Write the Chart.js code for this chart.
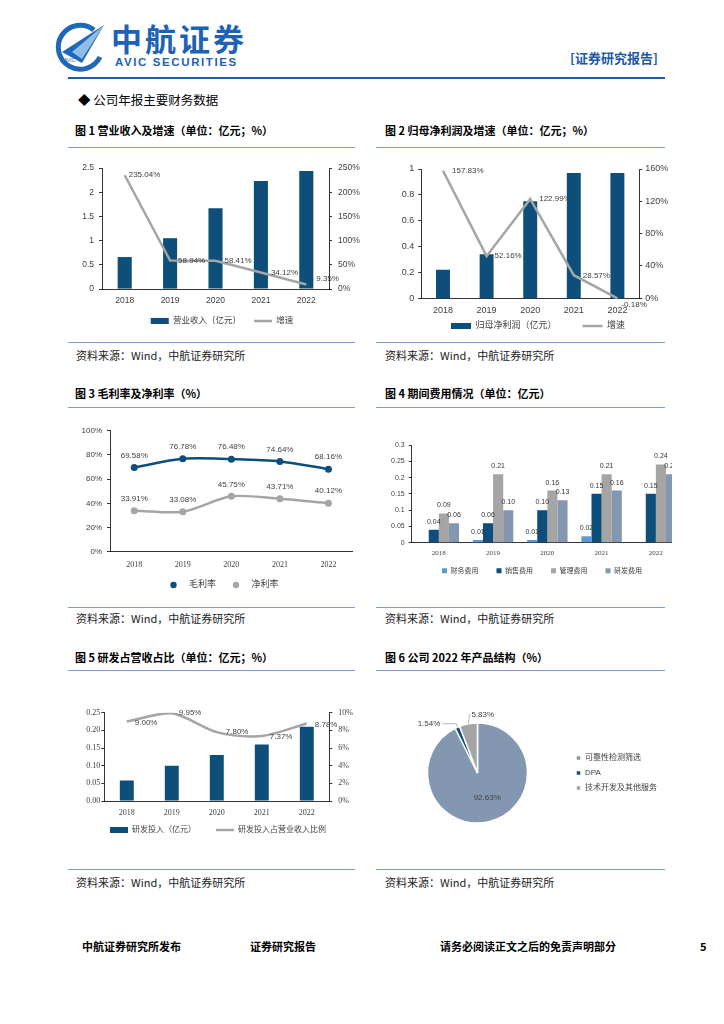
<!DOCTYPE html>
<html>
<head>
<meta charset="utf-8">
<script src="https://cdn.jsdelivr.net/npm/chart.js@4.4.0/dist/chart.umd.min.js"></script>
<style>
  body { margin: 0; width: 724px; height: 1024px; background: #fff; position: relative; overflow: hidden;
         font-family: 'Noto Sans CJK SC', sans-serif; color: #000; }
  .abs { position: absolute; white-space: nowrap; }
  .ttl { font-size: 11px; font-weight: bold; line-height: 12px; }
  .src { font-size: 11px; line-height: 12px; color: #222; }
  .foot { font-size: 11px; font-weight: bold; line-height: 12px; }
  .hl { position: absolute; height: 0; border-top: 1.5px solid #7c9ccf; }
  .box { position: absolute; }
</style>
</head>
<body>

<!-- header -->
<svg class="abs" style="left:52px;top:21px" width="56" height="54" viewBox="0 0 56 54">
  <path d="M42 9 A22 22 0 1 0 48 36" fill="none" stroke="#1f68b8" stroke-width="5"/>
  <polygon points="10,31 52,4 30,42" fill="#1f68b8"/>
  <polygon points="20,31 52,4 30,38" fill="#8fbde6"/>
  <text x="12" y="41" font-size="5" font-family="Liberation Sans" fill="#1f68b8">AVIC</text>
</svg>
<div class="abs" style="left:111px;top:20px;font-size:31px;font-weight:bold;line-height:36px;color:#1d62b5;letter-spacing:3px">中航证券</div>
<div class="abs" style="left:115px;top:56px;font-family:'Liberation Sans';font-size:11.5px;font-weight:bold;line-height:12px;color:#1d62b5;letter-spacing:1.6px">AVIC SECURITIES</div>
<div class="abs" style="left:570px;top:50px;font-size:13px;font-weight:bold;line-height:15px;color:#1d5aa6">[证券研究报告]</div>
<div class="abs" style="left:68px;top:77px;width:597px;height:0;border-top:2px solid #1f5ca8"></div>
<div class="abs" style="left:78px;top:92px;font-size:12.5px;line-height:15px">◆ 公司年报主要财务数据</div>

<!-- row 1 -->
<div class="abs ttl" style="left:75px;top:124px">图 1 营业收入及增速（单位：亿元；%）</div>
<div class="abs ttl" style="left:385px;top:124px">图 2 归母净利润及增速（单位：亿元；%）</div>
<div class="hl" style="left:68px;top:147px;width:287px"></div>
<div class="hl" style="left:376px;top:147px;width:289px"></div>
<div class="hl" style="left:68px;top:342px;width:287px"></div>
<div class="hl" style="left:376px;top:342px;width:289px"></div>
<div class="abs src" style="left:76px;top:349px">资料来源：Wind，中航证券研究所</div>
<div class="abs src" style="left:385px;top:349px">资料来源：Wind，中航证券研究所</div>

<!-- row 2 -->
<div class="abs ttl" style="left:75px;top:387px">图 3 毛利率及净利率（%）</div>
<div class="abs ttl" style="left:385px;top:387px">图 4 期间费用情况（单位：亿元）</div>
<div class="hl" style="left:68px;top:407px;width:287px"></div>
<div class="hl" style="left:376px;top:407px;width:289px"></div>
<div class="hl" style="left:68px;top:607px;width:287px"></div>
<div class="hl" style="left:376px;top:607px;width:289px"></div>
<div class="abs src" style="left:76px;top:612px">资料来源：Wind，中航证券研究所</div>
<div class="abs src" style="left:385px;top:612px">资料来源：Wind，中航证券研究所</div>

<!-- row 3 -->
<div class="abs ttl" style="left:75px;top:651px">图 5 研发占营收占比（单位：亿元；%）</div>
<div class="abs ttl" style="left:385px;top:651px">图 6 公司 2022 年产品结构（%）</div>
<div class="hl" style="left:68px;top:670px;width:287px"></div>
<div class="hl" style="left:376px;top:670px;width:289px"></div>
<div class="hl" style="left:68px;top:869px;width:287px"></div>
<div class="hl" style="left:376px;top:869px;width:289px"></div>
<div class="abs src" style="left:76px;top:876px">资料来源：Wind，中航证券研究所</div>
<div class="abs src" style="left:385px;top:876px">资料来源：Wind，中航证券研究所</div>

<!-- footer -->
<div class="abs foot" style="left:82px;top:940px">中航证券研究所发布</div>
<div class="abs foot" style="left:250px;top:940px">证券研究报告</div>
<div class="abs foot" style="left:440px;top:940px">请务必阅读正文之后的免责声明部分</div>
<div class="abs foot" style="left:700px;top:940px">5</div>

<!-- charts -->
<div class="box" style="left:60px;top:150px;width:310px;height:190px"><canvas id="c1"></canvas></div>
<div class="box" style="left:375px;top:150px;width:300px;height:212px"><canvas id="c2"></canvas></div>
<div class="box" style="left:50px;top:415px;width:320px;height:190px"><canvas id="c3"></canvas></div>
<div class="box" style="left:375px;top:415px;width:297px;height:185px;overflow:hidden">
  <div style="position:absolute;left:0;top:0;width:322px;height:179px"><canvas id="c4"></canvas></div>
</div>
<div class="box" style="left:60px;top:690px;width:310px;height:167px"><canvas id="c5"></canvas></div>
<div class="box" style="left:375px;top:690px;width:300px;height:166px"><canvas id="c6"></canvas></div>

<script>
// ---- data ----
const years = ['2018', '2019', '2020', '2021', '2022'];

const revenue = [0.66, 1.05, 1.67, 2.23, 2.44];            // 营业收入（亿元）
const revenueGrowth = [235.04, 58.94, 58.41, 34.12, 9.35]; // 增速 %

const netProfit = [0.22, 0.34, 0.75, 0.97, 0.97];           // 归母净利润（亿元）
const netProfitGrowth = [157.83, 52.16, 122.99, 28.57, -0.18];

const grossMargin = [69.58, 76.78, 76.48, 74.64, 68.16];    // 毛利率
const netMargin = [33.91, 33.08, 45.75, 43.71, 40.12];      // 净利率

const financeExp = [null, 0.008, 0.008, 0.02, null];        // 财务费用
const salesExp = [0.04, 0.06, 0.10, 0.15, 0.15];            // 销售费用
const adminExp = [0.09, 0.21, 0.16, 0.21, 0.24];            // 管理费用
const rdExp = [0.06, 0.10, 0.13, 0.16, 0.21];               // 研发费用

const rdSpend = [0.058, 0.10, 0.13, 0.16, 0.21];            // 研发投入（亿元）
const rdRatio = [9.00, 9.95, 7.80, 7.37, 8.78];             // 研发投入占营业收入比例

const productNames = ['可靠性检测筛选', 'DPA', '技术开发及其他服务'];
const productShare = [92.63, 1.54, 5.83];

// ---- styling ----
const DARK = '#0d4f7a';
const GRAY = '#a5a5a5';
const STEEL = '#8497b0';
const LIGHT = '#5b9bd5';
const NUM = "'Liberation Sans', 'Noto Sans CJK SC', sans-serif";
const SERIF = "'Liberation Serif', 'Noto Sans CJK SC', serif";

Chart.defaults.font.family = NUM;
Chart.defaults.font.size = 9;
Chart.defaults.color = '#404040';
Chart.defaults.animation = false;
Chart.defaults.events = [];
Chart.defaults.plugins.tooltip.enabled = false;

// value labels next to points / on top of bars
const pointLabels = {
  id: 'pointLabels',
  afterDatasetsDraw(chart) {
    const ctx = chart.ctx;
    chart.data.datasets.forEach((ds, i) => {
      const lab = ds.pointLabel;
      if (!lab) return;
      const meta = chart.getDatasetMeta(i);
      ctx.save();
      ctx.font = lab.font;
      ctx.fillStyle = lab.color || '#404040';
      ctx.textAlign = lab.align || 'center';
      ctx.textBaseline = 'middle';
      meta.data.forEach((el, j) => {
        const v = ds.data[j];
        if (v === null || v === undefined) return;
        const off = lab.offsets ? lab.offsets[j] : [0, lab.dy || 0];
        ctx.fillText(lab.format(v), el.x + off[0], el.y + off[1]);
      });
      ctx.restore();
    });
  }
};

// move the legend up/down after layout (keeps the item spacing of the original)
const legendNudge = {
  id: 'legendNudge',
  afterLayout(chart, args, opts) {
    const lg = chart.legend;
    if (!lg || !opts.dy) return;
    lg.top += opts.dy;
    lg.bottom += opts.dy;
  }
};

// circle marker on top of the line symbol in the legend
const legendDots = {
  id: 'legendDots',
  afterDraw(chart) {
    const lg = chart.legend;
    if (!lg || !lg.legendHitBoxes) return;
    const w = lg.options.labels.pointStyleWidth;
    const ctx = chart.ctx;
    lg.legendItems.forEach((it, i) => {
      const hb = lg.legendHitBoxes[i];
      ctx.save();
      ctx.fillStyle = it.strokeStyle;
      ctx.beginPath();
      ctx.arc(hb.left + w / 2, hb.top + hb.height / 2, 3.2, 0, Math.PI * 2);
      ctx.fill();
      ctx.restore();
    });
  }
};

// pie percentage labels with leader lines
const pieLabels = {
  id: 'pieLabels',
  afterDatasetsDraw(chart, args, opts) {
    const ctx = chart.ctx;
    const ds = chart.data.datasets[0];
    const meta = chart.getDatasetMeta(0);
    ctx.save();
    ctx.font = opts.font;
    ctx.fillStyle = '#404040';
    ctx.strokeStyle = '#a6a6a6';
    ctx.lineWidth = 0.8;
    ctx.textBaseline = 'middle';
    meta.data.forEach((arc, j) => {
      const p = opts.place[j];
      const mid = (arc.startAngle + arc.endAngle) / 2;
      const r = arc.outerRadius;
      const txt = ds.data[j].toFixed(2) + '%';
      if (p.inside) {
        ctx.textAlign = 'center';
        ctx.fillText(txt, arc.x + Math.cos(mid) * r * p.inside + (p.dx || 0), arc.y + Math.sin(mid) * r * p.inside);
        return;
      }
      const x0 = arc.x + Math.cos(mid) * r, y0 = arc.y + Math.sin(mid) * r;
      const x1 = x0 + p.elbow[0], y1 = y0 + p.elbow[1];
      const x2 = x1 + p.tail;
      ctx.beginPath();
      ctx.moveTo(x0, y0); ctx.lineTo(x1, y1); ctx.lineTo(x2, y1);
      ctx.stroke();
      ctx.textAlign = p.tail < 0 ? 'right' : 'left';
      ctx.fillText(txt, x2 + (p.tail < 0 ? -2 : 1), y1);
    });
    ctx.restore();
  }
};

function xAxis(size, pad, height, family) {
  return {
    offset: true,
    grid: { display: false, drawTicks: false },
    border: { display: true, color: '#000', width: 0.8 },
    ticks: { font: { size: size, family: family || NUM }, padding: pad, color: '#404040' },
    afterFit(s) { s.height = height; }
  };
}

function yAxis(o) {
  return {
    position: o.position || 'left',
    min: o.min, max: o.max,
    grid: { display: true, drawOnChartArea: false, drawTicks: true, tickLength: 3, color: '#000', lineWidth: 0.8 },
    border: { display: true, color: '#000', width: 0.8 },
    ticks: { stepSize: o.step, font: { size: o.size || 8.5, family: o.family || NUM }, padding: o.pad, color: '#404040',
             callback: o.cb || undefined },
    afterFit(s) { s.width = o.width; }
  };
}

// empty spacer on the right, so the legend centre matches the original
function padAxis(width) {
  return {
    type: 'linear', axis: 'y', position: 'right', display: true,
    grid: { display: false, drawTicks: false }, border: { display: false }, ticks: { display: false },
    afterFit(s) { s.width = width; }
  };
}

const bySet = (a, b) => a.datasetIndex - b.datasetIndex;
const short = v => String(Math.round(v * 100) / 100);

// ---- 图1 营业收入及增速 ----
new Chart(document.getElementById('c1'), {
  type: 'bar',
  data: {
    labels: years,
    datasets: [
      { type: 'bar', label: '营业收入（亿元）', data: revenue, yAxisID: 'y', backgroundColor: DARK,
        barPercentage: 0.31, categoryPercentage: 1, order: 1, pointStyle: 'rect' },
      { type: 'line', label: '增速', data: revenueGrowth, yAxisID: 'y1', borderColor: GRAY, backgroundColor: GRAY,
        borderWidth: 2.5, pointRadius: 0, tension: 0, order: 0, pointStyle: 'line',
        pointLabel: { font: '8px ' + NUM, align: 'left', offsets: [[4, 0], [8, 0], [9, 0], [10, 0], [10, -6]],
                      format: v => v.toFixed(2) + '%' } }
    ]
  },
  options: {
    responsive: true, maintainAspectRatio: false,
    layout: { padding: { top: 18, left: 14, right: 0, bottom: 4.75 } },
    plugins: {
      legend: { position: 'bottom', labels: { usePointStyle: true, pointStyleWidth: 18, boxHeight: 6, padding: 13,
                font: { size: 8.5 }, color: '#404040', sort: bySet } }
    },
    scales: {
      x: xAxis(8.5, 7, 14.75),
      y: yAxis({ min: 0, max: 2.5, step: 0.5, width: 28, pad: 5, cb: short }),
      y1: yAxis({ position: 'right', min: 0, max: 250, step: 50, width: 41, pad: 6, cb: v => v + '%' })
    }
  },
  plugins: [pointLabels]
});

// ---- 图2 归母净利润及增速 ----
new Chart(document.getElementById('c2'), {
  type: 'bar',
  data: {
    labels: years,
    datasets: [
      { type: 'bar', label: '归母净利润（亿元）', data: netProfit, yAxisID: 'y', backgroundColor: DARK,
        barPercentage: 0.32, categoryPercentage: 1, order: 1, pointStyle: 'rect' },
      { type: 'line', label: '增速', data: netProfitGrowth, yAxisID: 'y1', borderColor: GRAY, backgroundColor: GRAY,
        borderWidth: 2.5, pointRadius: 0, tension: 0, order: 0, pointStyle: 'line', clip: false,
        pointLabel: { font: '8px ' + NUM, align: 'left', offsets: [[9, 0], [8, 0], [9, 0], [9, 1], [4, 6]],
                      format: v => v.toFixed(2) + '%' } }
    ]
  },
  options: {
    responsive: true, maintainAspectRatio: false,
    layout: { padding: { top: 19, left: 26, right: 0, bottom: 0.7 } },
    plugins: {
      legend: { position: 'bottom', labels: { usePointStyle: true, pointStyleWidth: 20, boxHeight: 6, padding: 26,
                font: { size: 9 }, color: '#404040', sort: bySet } },
      legendNudge: { dy: -20.8 }
    },
    scales: {
      x: xAxis(9, 7, 18),
      y: yAxis({ min: 0, max: 1, step: 0.2, width: 20.2, pad: 4, size: 9, cb: short }),
      y1: yAxis({ position: 'right', min: 0, max: 160, step: 40, width: 35.8, pad: 3, size: 9, cb: v => v + '%' })
    }
  },
  plugins: [pointLabels, legendNudge]
});

// ---- 图3 毛利率及净利率 ----
new Chart(document.getElementById('c3'), {
  type: 'line',
  data: {
    labels: years,
    datasets: [
      { label: '毛利率', data: grossMargin, borderColor: DARK, backgroundColor: DARK, borderWidth: 2.5,
        pointRadius: 3.5, pointBorderWidth: 0, pointBackgroundColor: DARK, tension: 0.3,
        pointLabel: { font: '8px ' + NUM, dy: -12, format: v => v.toFixed(2) + '%' } },
      { label: '净利率', data: netMargin, borderColor: GRAY, backgroundColor: GRAY, borderWidth: 2.5,
        pointRadius: 3.5, pointBorderWidth: 0, pointBackgroundColor: GRAY, tension: 0.3,
        pointLabel: { font: '8px ' + NUM, dy: -12, format: v => v.toFixed(2) + '%' } }
    ]
  },
  options: {
    responsive: true, maintainAspectRatio: false,
    layout: { padding: { top: 15.7, left: 30, right: 9, bottom: 5.5 } },
    plugins: {
      legend: { position: 'bottom', labels: { usePointStyle: true, pointStyle: 'line', pointStyleWidth: 22, boxHeight: 6,
                padding: 9, font: { size: 9 }, color: '#404040' } }
    },
    scales: {
      x: xAxis(8, 8.5, 19.8, SERIF),
      y: yAxis({ min: 0, max: 100, step: 20, width: 30, pad: 5, size: 8, cb: v => v + '%' }),
      yPad: padAxis(8.3)
    }
  },
  plugins: [pointLabels, legendDots]
});

// ---- 图4 期间费用情况 ----
const expLabel = { font: '7px ' + NUM, dy: -8, color: '#333', format: v => v.toFixed(2) };
new Chart(document.getElementById('c4'), {
  type: 'bar',
  data: {
    labels: years,
    datasets: [
      { label: '财务费用', data: financeExp, backgroundColor: LIGHT, pointLabel: expLabel },
      { label: '销售费用', data: salesExp, backgroundColor: DARK, pointLabel: expLabel },
      { label: '管理费用', data: adminExp, backgroundColor: GRAY, pointLabel: expLabel },
      { label: '研发费用', data: rdExp, backgroundColor: STEEL, pointLabel: expLabel }
    ]
  },
  options: {
    responsive: true, maintainAspectRatio: false,
    datasets: { bar: { barPercentage: 1, categoryPercentage: 0.745 } },
    layout: { padding: { top: 30, left: 12.7, right: 0.7, bottom: 0.3 } },
    plugins: {
      legend: { position: 'bottom', labels: { boxWidth: 5, boxHeight: 5, padding: 18, font: { size: 7 }, color: '#404040' } },
      legendNudge: { dy: -9.5 }
    },
    scales: {
      x: xAxis(7, 5.8, 16, SERIF),
      y: yAxis({ min: 0, max: 0.3, step: 0.05, width: 24, pad: 4, size: 7, cb: short }),
      yPad: padAxis(13.3)
    }
  },
  plugins: [pointLabels, legendNudge]
});

// ---- 图5 研发占营收占比 ----
new Chart(document.getElementById('c5'), {
  type: 'bar',
  data: {
    labels: years,
    datasets: [
      { type: 'bar', label: '研发投入（亿元）', data: rdSpend, yAxisID: 'y', backgroundColor: DARK,
        barPercentage: 0.31, categoryPercentage: 1, order: 1, pointStyle: 'rect' },
      { type: 'line', label: '研发投入占营业收入比例', data: rdRatio, yAxisID: 'y1', borderColor: GRAY, backgroundColor: GRAY,
        borderWidth: 2.5, pointRadius: 0, tension: 0.3, order: 0, pointStyle: 'line',
        pointLabel: { font: '8px ' + NUM, align: 'left', offsets: [[8, 1], [7, 0], [9, 0], [8, 1], [8, 1]],
                      format: v => v.toFixed(2) + '%' } }
    ]
  },
  options: {
    responsive: true, maintainAspectRatio: false,
    layout: { padding: { top: 22.7, left: 6, right: 0, bottom: 0 } },
    plugins: {
      legend: { position: 'bottom', labels: { usePointStyle: true, pointStyleWidth: 18, boxHeight: 6, padding: 20,
                font: { size: 8 }, color: '#404040', sort: bySet } },
      legendNudge: { dy: -13 }
    },
    scales: {
      x: xAxis(8, 7, 18, SERIF),
      y: yAxis({ min: 0, max: 0.25, step: 0.05, width: 38.3, pad: 1, size: 8, family: SERIF, cb: v => v.toFixed(2) }),
      y1: yAxis({ position: 'right', min: 0, max: 10, step: 2, width: 40.7, pad: 6, size: 8, family: SERIF, cb: v => v + '%' })
    }
  },
  plugins: [pointLabels, legendNudge]
});

// ---- 图6 公司2022年产品结构 ----
new Chart(document.getElementById('c6'), {
  type: 'pie',
  data: {
    labels: productNames,
    datasets: [{ data: productShare, backgroundColor: [STEEL, DARK, GRAY], borderColor: '#fff', borderWidth: 1.5, radius: 50 }]
  },
  options: {
    responsive: true, maintainAspectRatio: false,
    layout: { padding: { top: 0, left: 11, right: 8, bottom: 0 } },
    plugins: {
      legend: { position: 'right', labels: { boxWidth: 5, boxHeight: 5, padding: 7, font: { size: 8 }, color: '#404040' } },
      pieLabels: {
        font: '8px ' + NUM,
        place: [{ inside: 0.5, dx: 4 }, { elbow: [-1, -3.5], tail: -14 }, { elbow: [1, -9], tail: 1 }]
      }
    }
  },
  plugins: [pieLabels]
});
</script>
</body>
</html>
